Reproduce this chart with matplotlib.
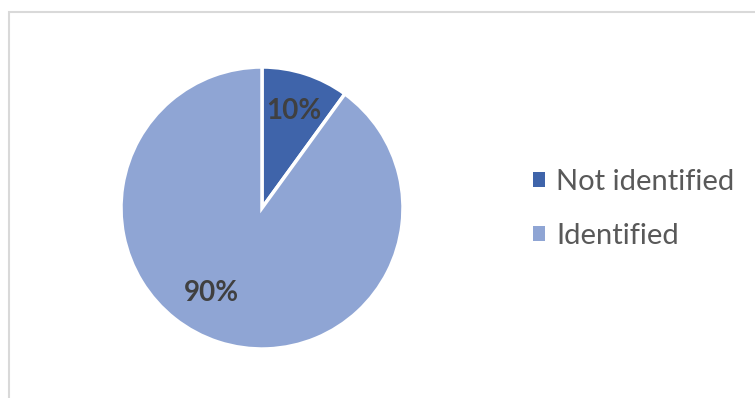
import numpy as np
import matplotlib.pyplot as plt
from matplotlib.patches import Patch

categories = ["Not identified", "Identified"]
shares = [10, 90]
colors = ["#3F64AA", "#8FA5D4"]

plt.rcParams["font.family"] = ["Lato", "DejaVu Sans"]

fig = plt.figure(figsize=(7.55, 3.98), dpi=100)

# light grey chart frame (cut off on right/bottom as in the source)
frame = plt.Rectangle((8.5 / 755, -0.1), 1.2, 1 - 11.5 / 398 + 0.1,
                      transform=fig.transFigure, fill=False,
                      edgecolor="#D9D9D9", linewidth=1.5)
fig.patches.append(frame)

ax = fig.add_axes([121 / 755, 49 / 398, 282 / 755, 282 / 398])
wedges, texts, autotexts = ax.pie(
    shares, colors=colors, startangle=90, counterclock=False,
    autopct="%d%%", pctdistance=0.72,
    wedgeprops=dict(edgecolor="white", linewidth=2.5),
    textprops=dict(color="#404040", fontsize=20, fontweight="bold"),
)
# Excel puts the big label lower-left rather than at the slice middle
ang = np.deg2rad(239.5)
autotexts[1].set_position((0.70 * np.cos(ang), 0.70 * np.sin(ang)))
ax.set_xlim(-1, 1)
ax.set_ylim(-1, 1)
ax.set_aspect("equal")

handles = [Patch(facecolor=c, edgecolor="none") for c in colors]
fig.legend(handles, categories, loc="center left",
           bbox_to_anchor=(533 / 755, 1 - 209 / 398), frameon=False,
           borderpad=0, borderaxespad=0,
           fontsize=21, labelcolor="#595959", handlelength=0.41,
           handleheight=0.41, handletextpad=0.38, labelspacing=0.95)

fig.savefig("out.png", dpi=100)
